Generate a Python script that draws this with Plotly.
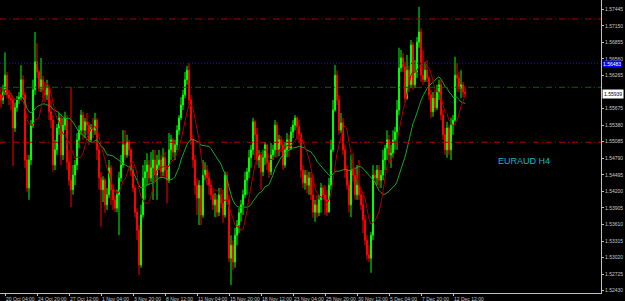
import plotly.graph_objects as go
import pandas as pd

first_open = 1.5592
closes = [
 1.5583, 1.5597, 1.5627, 1.5592, 1.5586, 1.5583, 1.5533, 1.5569, 1.5583, 1.5588,
 1.5619, 1.5592, 1.5476, 1.5426, 1.5476, 1.5538, 1.5601, 1.5651, 1.5633, 1.5604,
 1.5619, 1.5601, 1.5592, 1.5604, 1.5562, 1.5547, 1.5467, 1.5494, 1.5533, 1.5551,
 1.5485, 1.5538, 1.5551, 1.5472, 1.5440, 1.5423, 1.5449, 1.5467, 1.5512, 1.5529,
 1.5556, 1.5529, 1.5544, 1.5538, 1.5512, 1.5533, 1.5529, 1.5547, 1.5494, 1.5444,
 1.5423, 1.5440, 1.5396, 1.5414, 1.5462, 1.5423, 1.5405, 1.5390, 1.5414, 1.5444,
 1.5467, 1.5503, 1.5485, 1.5508, 1.5494, 1.5458, 1.5426, 1.5383, 1.5351, 1.5289,
 1.5378, 1.5444, 1.5455, 1.5467, 1.5444, 1.5462, 1.5476, 1.5449, 1.5467, 1.5476,
 1.5455, 1.5480, 1.5458, 1.5440, 1.5494, 1.5512, 1.5490, 1.5503, 1.5529, 1.5551,
 1.5574, 1.5592, 1.5619, 1.5636, 1.5583, 1.5512, 1.5476, 1.5431, 1.5408, 1.5431,
 1.5378, 1.5449, 1.5458, 1.5444, 1.5431, 1.5414, 1.5396, 1.5405, 1.5383, 1.5414,
 1.5399, 1.5378, 1.5449, 1.5405, 1.5301, 1.5324, 1.5294, 1.5342, 1.5360, 1.5382,
 1.5396, 1.5414, 1.5440, 1.5455, 1.5480, 1.5494, 1.5544, 1.5521, 1.5476, 1.5485,
 1.5455, 1.5480, 1.5503, 1.5471, 1.5455, 1.5485, 1.5494, 1.5538, 1.5494, 1.5512,
 1.5503, 1.5467, 1.5494, 1.5512, 1.5497, 1.5526, 1.5538, 1.5551, 1.5535, 1.5521,
 1.5458, 1.5435, 1.5449, 1.5431, 1.5444, 1.5414, 1.5383, 1.5396, 1.5382, 1.5405,
 1.5426, 1.5414, 1.5405, 1.5383, 1.5431, 1.5494, 1.5565, 1.5627, 1.5583, 1.5529,
 1.5542, 1.5494, 1.5458, 1.5431, 1.5396, 1.5458, 1.5449, 1.5414, 1.5431, 1.5414,
 1.5396, 1.5369, 1.5333, 1.5307, 1.5301, 1.5342, 1.5449, 1.5444, 1.5458, 1.5440,
 1.5449, 1.5476, 1.5497, 1.5512, 1.5485, 1.5488, 1.5512, 1.5526, 1.5565, 1.5640,
 1.5658, 1.5642, 1.5586, 1.5636, 1.5610, 1.5681, 1.5610, 1.5633, 1.5686, 1.5704,
 1.5627, 1.5619, 1.5636, 1.5622, 1.5592, 1.5562, 1.5586, 1.5569, 1.5597, 1.5610,
 1.5556, 1.5521, 1.5494, 1.5533, 1.5494, 1.5538, 1.5547, 1.5627, 1.5622, 1.5604,
 1.5610, 1.5597, 1.5594]
highs = [
 1.5604, 1.5610, 1.5668, 1.5633, 1.5601, 1.5594, 1.5586, 1.5578, 1.5590, 1.5597,
 1.5645, 1.5627, 1.5597, 1.5485, 1.5485, 1.5547, 1.5619, 1.5704, 1.5684, 1.5636,
 1.5658, 1.5626, 1.5615, 1.5619, 1.5608, 1.5583, 1.5556, 1.5512, 1.5540, 1.5560,
 1.5558, 1.5551, 1.5562, 1.5556, 1.5494, 1.5606, 1.5467, 1.5476, 1.5524, 1.5538,
 1.5565, 1.5562, 1.5551, 1.5560, 1.5544, 1.5540, 1.5551, 1.5560, 1.5551, 1.5503,
 1.5455, 1.5447, 1.5444, 1.5426, 1.5476, 1.5467, 1.5431, 1.5414, 1.5423, 1.5455,
 1.5485, 1.5529, 1.5529, 1.5521, 1.5512, 1.5497, 1.5467, 1.5431, 1.5390, 1.5360,
 1.5396, 1.5467, 1.5476, 1.5488, 1.5476, 1.5490, 1.5494, 1.5494, 1.5485, 1.5494,
 1.5485, 1.5497, 1.5490, 1.5467, 1.5524, 1.5521, 1.5515, 1.5512, 1.5538, 1.5556,
 1.5588, 1.5601, 1.5633, 1.5644, 1.5649, 1.5592, 1.5521, 1.5485, 1.5444, 1.5440,
 1.5431, 1.5476, 1.5472, 1.5467, 1.5455, 1.5440, 1.5423, 1.5417, 1.5414, 1.5426,
 1.5426, 1.5423, 1.5455, 1.5455, 1.5414, 1.5342, 1.5333, 1.5355, 1.5369, 1.5390,
 1.5405, 1.5423, 1.5455, 1.5462, 1.5494, 1.5503, 1.5551, 1.5547, 1.5533, 1.5494,
 1.5490, 1.5494, 1.5508, 1.5503, 1.5476, 1.5506, 1.5503, 1.5547, 1.5544, 1.5521,
 1.5519, 1.5512, 1.5508, 1.5524, 1.5521, 1.5535, 1.5547, 1.5556, 1.5553, 1.5547,
 1.5526, 1.5467, 1.5458, 1.5458, 1.5455, 1.5455, 1.5449, 1.5405, 1.5414, 1.5414,
 1.5435, 1.5431, 1.5431, 1.5423, 1.5444, 1.5512, 1.5583, 1.5645, 1.5636, 1.5592,
 1.5560, 1.5551, 1.5503, 1.5467, 1.5440, 1.5485, 1.5488, 1.5462, 1.5467, 1.5476,
 1.5423, 1.5414, 1.5378, 1.5342, 1.5324, 1.5348, 1.5467, 1.5458, 1.5467, 1.5467,
 1.5458, 1.5494, 1.5503, 1.5529, 1.5521, 1.5503, 1.5529, 1.5535, 1.5583, 1.5676,
 1.5672, 1.5667, 1.5651, 1.5663, 1.5645, 1.5690, 1.5686, 1.5654, 1.5695, 1.5749,
 1.5711, 1.5672, 1.5651, 1.5654, 1.5627, 1.5601, 1.5597, 1.5601, 1.5610, 1.5619,
 1.5619, 1.5565, 1.5533, 1.5544, 1.5538, 1.5551, 1.5556, 1.5660, 1.5649, 1.5633,
 1.5636, 1.5615, 1.5608]
lows = [
 1.5569, 1.5576, 1.5592, 1.5586, 1.5574, 1.5565, 1.5465, 1.5526, 1.5562, 1.5576,
 1.5583, 1.5585, 1.5462, 1.5419, 1.5405, 1.5467, 1.5533, 1.5592, 1.5622, 1.5597,
 1.5597, 1.5586, 1.5579, 1.5583, 1.5547, 1.5533, 1.5455, 1.5458, 1.5485, 1.5521,
 1.5467, 1.5476, 1.5529, 1.5458, 1.5430, 1.5392, 1.5414, 1.5431, 1.5458, 1.5497,
 1.5521, 1.5512, 1.5515, 1.5521, 1.5503, 1.5508, 1.5515, 1.5521, 1.5476, 1.5423,
 1.5357, 1.5401, 1.5382, 1.5387, 1.5408, 1.5396, 1.5387, 1.5383, 1.5383, 1.5342,
 1.5437, 1.5462, 1.5476, 1.5480, 1.5483, 1.5447, 1.5419, 1.5373, 1.5333, 1.5271,
 1.5284, 1.5373, 1.5405, 1.5431, 1.5431, 1.5437, 1.5405, 1.5440, 1.5405, 1.5458,
 1.5444, 1.5447, 1.5444, 1.5399, 1.5435, 1.5476, 1.5480, 1.5476, 1.5494, 1.5521,
 1.5547, 1.5565, 1.5586, 1.5610, 1.5574, 1.5503, 1.5462, 1.5414, 1.5378, 1.5360,
 1.5360, 1.5373, 1.5440, 1.5431, 1.5414, 1.5405, 1.5387, 1.5374, 1.5374, 1.5376,
 1.5390, 1.5364, 1.5373, 1.5396, 1.5294, 1.5253, 1.5280, 1.5284, 1.5324, 1.5346,
 1.5366, 1.5378, 1.5408, 1.5414, 1.5444, 1.5462, 1.5485, 1.5476, 1.5467, 1.5462,
 1.5423, 1.5447, 1.5467, 1.5458, 1.5444, 1.5449, 1.5476, 1.5481, 1.5480, 1.5483,
 1.5490, 1.5458, 1.5462, 1.5481, 1.5481, 1.5494, 1.5515, 1.5529, 1.5512, 1.5506,
 1.5444, 1.5426, 1.5423, 1.5417, 1.5414, 1.5405, 1.5373, 1.5366, 1.5373, 1.5376,
 1.5382, 1.5405, 1.5378, 1.5376, 1.5383, 1.5423, 1.5490, 1.5562, 1.5574, 1.5521,
 1.5524, 1.5485, 1.5444, 1.5423, 1.5382, 1.5374, 1.5437, 1.5405, 1.5405, 1.5405,
 1.5387, 1.5346, 1.5324, 1.5298, 1.5294, 1.5275, 1.5333, 1.5431, 1.5431, 1.5426,
 1.5426, 1.5440, 1.5458, 1.5476, 1.5472, 1.5462, 1.5480, 1.5494, 1.5494, 1.5556,
 1.5633, 1.5633, 1.5579, 1.5583, 1.5597, 1.5604, 1.5601, 1.5604, 1.5622, 1.5676,
 1.5615, 1.5610, 1.5615, 1.5615, 1.5583, 1.5551, 1.5553, 1.5562, 1.5565, 1.5583,
 1.5547, 1.5512, 1.5485, 1.5480, 1.5485, 1.5476, 1.5521, 1.5544, 1.5597, 1.5597,
 1.5586, 1.5588, 1.5588]

date_labels = ["20 Oct 04:00", "24 Oct 20:00", "27 Oct 12:00", "1 Nov 04:00",
               "3 Nov 20:00", "8 Nov 12:00", "11 Nov 04:00", "15 Nov 20:00",
               "18 Nov 12:00", "23 Nov 04:00", "25 Nov 20:00", "30 Nov 12:00",
               "5 Dec 04:00", "7 Dec 20:00", "12 Dec 12:00"]
date_label_bars = [2 + 16 * k for k in range(len(date_labels))]

# 1.55970 is hidden under the bid-price box in the reference
price_ticks = [1.52430, 1.52725, 1.53020, 1.53315, 1.53610, 1.53905, 1.54200,
               1.54495, 1.54790, 1.55085, 1.55380, 1.55675, 1.56265,
               1.56560, 1.56855, 1.57150, 1.57445]

level_red_top = 1.57272
level_blue = 1.56483
level_green = 1.56055
level_red_low = 1.55075
bid_price = 1.55939

n = len(closes)
opens = [first_open] + closes[:-1]
idx = list(range(n))
s = pd.Series(closes)
ma_slow = s.rolling(21, min_periods=1).mean()
ma_fast = s.rolling(8, min_periods=1).mean()

fig = go.Figure()
fig.add_trace(go.Candlestick(
    x=idx, open=opens, high=highs, low=lows, close=closes,
    increasing=dict(line=dict(color="#00ff00", width=1), fillcolor="#00ff00"),
    decreasing=dict(line=dict(color="#ff0000", width=1), fillcolor="#ff0000"),
    whiskerwidth=0, showlegend=False, hoverinfo="skip"))
fig.add_trace(go.Scatter(x=idx, y=ma_slow, mode="lines",
                         line=dict(color="#1fa21f", width=1), showlegend=False))
fig.add_trace(go.Scatter(x=idx, y=ma_fast, mode="lines",
                         line=dict(color="#a80000", width=1), showlegend=False))

for lvl, col, dash in [(level_red_top, "#b00000", "6px,3px,1px,3px"),
                       (level_blue, "#1010c0", "1px,2px"),
                       (level_green, "#006400", "6px,3px,1px,3px"),
                       (level_red_low, "#b00000", "6px,3px,1px,3px")]:
    fig.add_shape(type="line", xref="paper", x0=0, x1=1, yref="y", y0=lvl, y1=lvl,
                  line=dict(color=col, width=1, dash=dash))

anns = []
for b, t in zip(date_label_bars, date_labels):
    anns.append(dict(x=b, y=0, xref="x", yref="paper", text=t, showarrow=False,
                     xanchor="left", yanchor="top", xshift=-1, yshift=-1,
                     font=dict(family="Liberation Sans", size=5, color="#c8c8c8")))
anns.append(dict(x=1, y=level_blue, xref="paper", yref="y", text=f"{level_blue:.5f}",
                 showarrow=False, xanchor="left", yanchor="middle", xshift=1,
                 yshift=-1, bgcolor="#0000ff", borderpad=0,
                 font=dict(family="Liberation Sans", size=5, color="#ffffff")))
anns.append(dict(x=1, y=bid_price, xref="paper", yref="y", text=f"{bid_price:.5f}",
                 showarrow=False, xanchor="left", yanchor="middle", xshift=1,
                 bgcolor="#ffffff", borderpad=1,
                 font=dict(family="Liberation Sans", size=5, color="#000000")))
anns.append(dict(x=0.872, y=0.45, xref="paper", yref="paper", text="EURAUD H4",
                 showarrow=False, xanchor="center", yanchor="middle",
                 font=dict(family="Liberation Sans", size=9, color="#1ab4c6")))

fig.update_layout(
    width=625, height=301,
    margin=dict(l=0, r=24, t=0, b=8, autoexpand=False),
    paper_bgcolor="#000000", plot_bgcolor="#000000",
    annotations=anns,
    xaxis=dict(range=[-0.5, 300], showgrid=False, zeroline=False,
               rangeslider=dict(visible=False), tickvals=date_label_bars,
               showticklabels=False, ticks="outside", ticklen=2,
               tickcolor="#c0c0c0", showline=True, linecolor="#c0c0c0",
               linewidth=1, fixedrange=True),
    yaxis=dict(range=[1.52389, 1.57611], side="right", showgrid=False,
               zeroline=False, tickvals=price_ticks,
               ticktext=[f"{v:.5f}" for v in price_ticks],
               ticks="outside", ticklen=2, tickcolor="#c0c0c0",
               showline=True, linecolor="#c0c0c0", linewidth=1,
               tickfont=dict(family="Liberation Sans", size=5, color="#c8c8c8"),
               automargin=False, fixedrange=True),
)
fig.write_html("out.html")
